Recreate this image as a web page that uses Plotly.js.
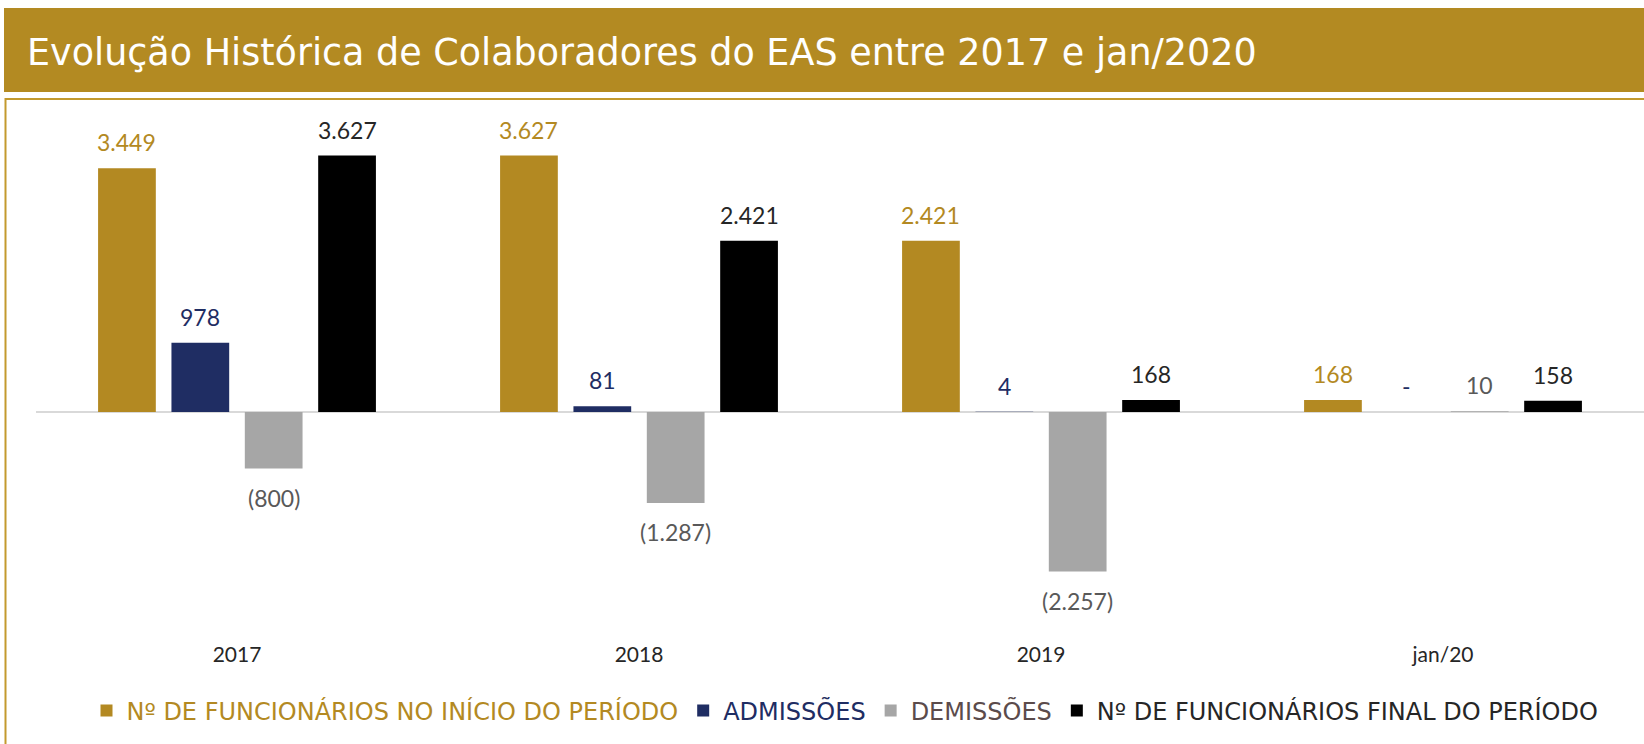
<!DOCTYPE html>
<html>
<head>
<meta charset="utf-8">
<script src="https://cdn.plot.ly/plotly-3.0.1.min.js"></script>
<style>
  html, body { margin: 0; padding: 0; background: #ffffff; }
  #chart { width: 1644px; height: 744px; }
</style>
</head>
<body>
<div id="chart"></div>
<script>
// ---- data ----
const categories = ['2017', '2018', '2019', 'jan/20'];
const inicioPeriodo = [3449, 3627, 2421, 168];
const admissoes = [978, 81, 4, 0];
const demissoes = [-800, -1287, -2257, 10];
const finalPeriodo = [3627, 2421, 168, 158];
const seriesNames = [
  'Nº DE FUNCIONÁRIOS NO INÍCIO DO PERÍODO',
  'ADMISSÕES',
  'DEMISSÕES',
  'Nº DE FUNCIONÁRIOS FINAL DO PERÍODO'
];
const titleText = 'Evolução Histórica de Colaboradores do EAS entre 2017 e jan/2020';

// ---- styles ----
const barColors = ['#B38922', '#1F2D63', '#A6A6A6', '#000000'];
const labelColors = ['#B38922', '#1F2D63', '#595959', '#262626'];
const legendColors = ['#B38922', '#1F2D63', '#5B4B4B', '#262626'];
const seriesValues = [inicioPeriodo, admissoes, demissoes, finalPeriodo];

const W = 1644, H = 744;
const M = { l: 36, r: 0, t: 100, b: 104 };
const plotW = W - M.l - M.r, plotH = H - M.t - M.b;
const px2x = p => (p - M.l) / plotW;
const px2y = p => (H - M.b - p) / plotH;

const bargap = 0.27, bargroupgap = 0.213;
const slot = (1 - bargap) / seriesValues.length;

function fmt(v) {
  if (v === 0) return '-';
  const s = Math.abs(v).toString().replace(/\B(?=(\d{3})+(?!\d))/g, '.');
  return v < 0 ? '(' + s + ')' : s;
}

const traces = seriesValues.map((vals, k) => ({
  type: 'bar',
  name: '<span style="color:' + legendColors[k] + '">' + seriesNames[k] + '</span>',
  x: categories,
  y: vals,
  marker: { color: barColors[k], line: { width: 0 } },
  hoverinfo: 'skip'
}));

const annotations = [];
seriesValues.forEach((vals, k) => {
  vals.forEach((v, i) => {
    annotations.push({
      xref: 'x', yref: 'y',
      x: i + (k - (seriesValues.length - 1) / 2) * slot,
      y: v,
      text: fmt(v),
      showarrow: false,
      xanchor: 'center', yanchor: 'middle',
      yshift: v >= 0 ? 26 : -29,
      font: { family: 'Lato, sans-serif', size: 23, color: labelColors[k] }
    });
  });
});

const layout = {
  width: W, height: H,
  margin: M,
  paper_bgcolor: '#ffffff',
  plot_bgcolor: '#ffffff',
  showlegend: true,
  barmode: 'group',
  bargap: bargap,
  bargroupgap: bargroupgap,
  title: {
    text: titleText,
    xref: 'container', yref: 'container',
    x: 27 / W, xanchor: 'left',
    y: 1 - 52 / H, yanchor: 'middle',
    font: { family: 'DejaVu Sans, sans-serif', size: 36.5, color: '#ffffff' }
  },
  xaxis: {
    type: 'category',
    range: [-0.5, categories.length - 0.5],
    showgrid: false, showline: false, zeroline: false,
    ticks: '',
    tickfont: { family: 'Lato, sans-serif', size: 21, color: '#262626' },
    fixedrange: true
  },
  yaxis: {
    range: [-3225, 4413],
    showgrid: false, showline: false,
    showticklabels: false, ticks: '',
    zeroline: true, zerolinecolor: '#D9D9D9', zerolinewidth: 2,
    fixedrange: true
  },
  legend: {
    orientation: 'h',
    x: px2x(845), xanchor: 'center',
    y: px2y(711), yanchor: 'middle',
    font: { family: 'DejaVu Sans, sans-serif', size: 24, color: '#262626' },
    bgcolor: 'rgba(0,0,0,0)',
    traceorder: 'normal'
  },
  shapes: [
    {
      type: 'rect', xref: 'paper', yref: 'paper', layer: 'below',
      x0: px2x(4), x1: px2x(W + 10), y0: px2y(92), y1: px2y(8),
      fillcolor: '#B38A22', line: { width: 0 }
    },
    {
      type: 'rect', xref: 'paper', yref: 'paper', layer: 'below',
      x0: px2x(5.5), x1: px2x(W + 20), y0: px2y(H + 20), y1: px2y(99),
      fillcolor: 'rgba(0,0,0,0)', line: { color: '#C39A2E', width: 2 }
    }
  ],
  annotations: annotations
};

Plotly.newPlot('chart', traces, layout, { displayModeBar: false, staticPlot: true });
</script>
</body>
</html>
